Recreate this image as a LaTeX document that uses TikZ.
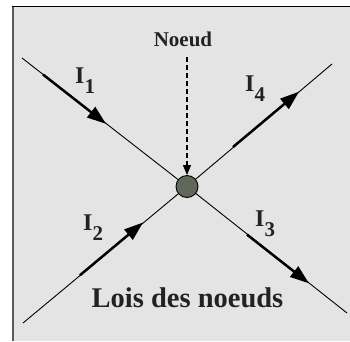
\documentclass[tikz,border=0pt]{standalone}
\usepackage{fontspec}
\setmainfont{Liberation Serif}
\usetikzlibrary{arrows.meta}
\definecolor{bg}{RGB}{228,228,228}
\definecolor{frameleft}{RGB}{90,90,90}
\definecolor{nodefill}{RGB}{96,104,90}
\definecolor{ink}{RGB}{34,34,34}
\begin{document}
\begin{tikzpicture}[x=1pt,y=-1pt,
  wire/.style={draw=black,line width=0.9pt},
  current/.style={draw=black,line width=2.5pt,-{Triangle[length=19pt,width=13pt]}},
  lbl/.style={inner sep=0pt,anchor=base west,text=ink,font=\fontsize{24}{24}\selectfont\bfseries},
  dot/.style={circle,draw=black,line width=0.9pt,fill=nodefill,minimum size=22pt,inner sep=0pt}
]
\useasboundingbox (0,0) rectangle (350,341);
\fill[bg] (12,6) rectangle (350,341);
\draw[frameleft,line width=2pt] (13,6) -- (13,341);
\draw[black,line width=1.5pt] (12,6.5) -- (350,6.5);

% line ends
\coordinate (a1) at (22,58);
\coordinate (a2) at (347,313);
\coordinate (b1) at (23,323);
\coordinate (b2) at (332,64);
\coordinate (cc) at (187,186.5);

\draw[wire] (a1) -- (cc);
\draw[wire] (cc) -- (a2);
\draw[wire] (b1) -- (cc);
\draw[wire] (cc) -- (b2);

% node
\node[dot] (c) at (cc) {};

% current segments
\coordinate (i1s) at (43,74.5);  \coordinate (i1e) at (106,123.8);
\coordinate (i3s) at (247,234.6); \coordinate (i3e) at (309,283.3);
\coordinate (i2s) at (80,275.2);  \coordinate (i2e) at (143,222.5);
\coordinate (i4s) at (233,147);   \coordinate (i4e) at (299,91.7);
\draw[current] (i1s) -- (i1e);
\draw[current] (i3s) -- (i3e);
\draw[current] (i2s) -- (i2e);
\draw[current] (i4s) -- (i4e);

% labels
\node[lbl] (l1) at (75,83) {I\raisebox{-10pt}{\fontsize{21}{21}\selectfont 1}};
\node[lbl] (l4) at (245,91) {I\raisebox{-10pt}{\fontsize{21}{21}\selectfont 4}};
\node[lbl] (l2) at (83,230) {I\raisebox{-10pt}{\fontsize{21}{21}\selectfont 2}};
\node[lbl] (l3) at (255,226) {I\raisebox{-10pt}{\fontsize{21}{21}\selectfont 3}};

% Noeud
\node[inner sep=0pt,anchor=base,text=ink,font=\fontsize{21}{21}\selectfont\bfseries] (n) at (183,46) {Noeud};
\draw[black,line width=1.1pt,dash pattern=on 5pt off 3pt,-{Triangle[length=10pt,width=8pt]}] (187,57) -- (c.north);

% title
\node[inner sep=0pt,anchor=base,font=\fontsize{28.5}{28.5}\selectfont\bfseries,text=ink] (t) at (187.5,307.5) {Lois des noeuds};
\end{tikzpicture}
\end{document}
